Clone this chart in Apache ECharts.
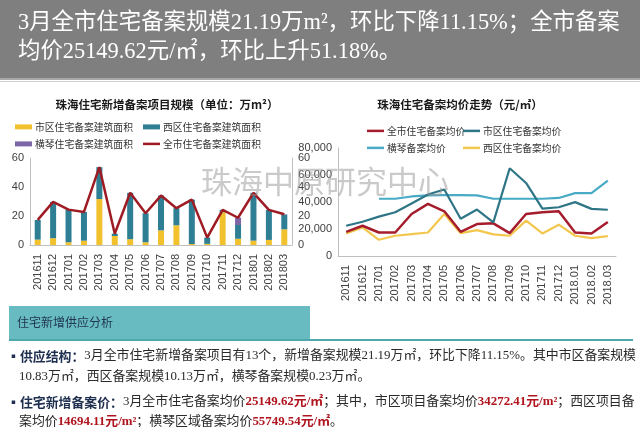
<!DOCTYPE html>
<html><head><meta charset="utf-8">
<script src="https://cdn.jsdelivr.net/npm/echarts@6/dist/echarts.min.js"></script>
<style>html,body{margin:0;padding:0;background:#fff}#c{width:640px;height:427px}</style>
</head><body><div id="c"></div>
<script>
// ---- data ----
const monthsArea = ['201611','201612','201701','201702','201703','201704','201705','201706','201707','201708','201709','201710','201711','201712','201801','201802','201803'];
const monthsPrice = ['201611','201612','201701','201702','201703','201704','201705','201706','201707','201708','201709','201710','201711','201712','2018.01','2018.02','2018.03'];
// 万m²
const areaShiqu   = [3.7, 4.7, 1.9, 3.0, 31.7, 6.2, 4.0, 1.9, 10.1, 13.6, 0.7, 0.8, 22.6, 4.3, 3.0, 3.5, 10.83];
const areaXiqu    = [13.6, 25.0, 22.5, 19.8, 22.0, 1.6, 32.0, 20.0, 24.0, 11.8, 30.6, 4.3, 1.6, 9.5, 33.0, 20.7, 10.13];
const areaHengqin = [0, 0, 0, 0, 0, 0, 0, 0, 0, 0, 0, 0, 0, 5.0, 0, 0, 0.23];
const areaAll     = [17.3, 29.7, 24.4, 22.8, 53.7, 7.8, 36.0, 21.9, 34.1, 25.4, 31.3, 5.1, 24.2, 18.8, 36.0, 24.2, 21.19];
// 元/㎡
const priceAll     = [17900, 22400, 17400, 17400, 31100, 38600, 33100, 17900, 23700, 24200, 16900, 31100, 32400, 33100, 17400, 16700, 25149.62];
const priceShiqu   = [22400, 25400, 29200, 32400, 38900, 45600, 49300, 27600, 34400, 24900, 65000, 54100, 35100, 36100, 39900, 34900, 34272.41];
const priceHengqin = [null, null, 42400, 42400, 44100, 44900, 45100, 45100, 44900, 42400, 42400, 42400, 42400, 43000, 46600, 46600, 55749.54];
const priceXiqu    = [16700, 21200, 12000, 15000, 16200, 17400, 31100, 16900, 19200, 16000, 15000, 26200, 16700, 23200, 15000, 13200, 14694.11];
// axis ticks
const areaTicks = [0, 20, 40, 60];
const priceTicks = [0, 20000, 40000, 60000, 80000];

const nmAreaShiqu = '市区住宅备案建筑面积', nmAreaXiqu = '西区住宅备案建筑面积', nmAreaHq = '横琴住宅备案建筑面积', nmAreaAll = '全市住宅备案建筑面积';
const nmPAll = '全市住宅备案均价', nmPShiqu = '市区住宅备案均价', nmPHq = '横琴备案均价', nmPXiqu = '西区住宅备案均价';

const cYellow = '#f2c12e', cTeal = '#2f7f94', cPurple = '#7d66a6', cRed = '#9e1b24';
const cpRed = '#a51d2d', cpTeal = '#2e7686', cpCyan = '#48aac4', cpYellow = '#f3c64e';

const SANS = '"Liberation Sans", "Noto Sans CJK SC", sans-serif';
const CJK = '"Noto Sans CJK SC", sans-serif';
const SERIF = '"Liberation Serif", "Noto Sans CJK SC", serif';
const axisGray = '#c0c0c0';
const lblColor = '#404040';

const chart = echarts.init(document.getElementById('c'), null, {renderer: 'canvas'});

function legendAt(name, left, top, iconH) {
  return {show: true, data: [name], left: left, top: top, icon: 'rect', itemWidth: 17, itemHeight: iconH,
    itemGap: 0, padding: 0, textStyle: {fontSize: 9.8, fontFamily: CJK, color: '#333', padding: [0, 0, 0, -2]}, selectedMode: false};
}

function T(x, y, text, font, fill, align, z) {
  return {type: 'text', x: x, y: y, z: z || 50, silent: true,
    style: {text: text, font: font, fill: fill, textAlign: align || 'left', textVerticalAlign: 'middle'}};
}

const pFont = 12.9;
const richP = {
  b: {fontFamily: CJK, fontWeight: 'bold', fontSize: pFont, fill: '#1f2f4f'},
  n: {fontFamily: SERIF, fontSize: pFont, fill: '#2a2a2a'},
  r: {fontFamily: SERIF, fontWeight: 'bold', fontSize: pFont, fill: '#b0141e'}
};
function P(x, y, text) {
  return {type: 'text', x: x, y: y, z: 50, silent: true,
    style: {text: text, rich: richP, textVerticalAlign: 'middle', textAlign: 'left', fontSize: pFont, fontFamily: SERIF, fill: '#2a2a2a'}};
}

const option = {
  animation: false,
  backgroundColor: '#ffffff',
  grid: [
    {left: 30, right: 348, top: 158, bottom: 182, containLabel: false},
    {left: 338, right: 24, top: 148, bottom: 171, containLabel: false}
  ],
  legend: [
    legendAt(nmAreaShiqu, 15, 122, 5),
    legendAt(nmAreaXiqu, 143, 122, 5),
    legendAt(nmAreaHq, 15, 139, 5),
    legendAt(nmAreaAll, 143, 139, 2.5),
    legendAt(nmPAll, 367, 126, 2.5),
    legendAt(nmPShiqu, 463, 126, 2.5),
    legendAt(nmPHq, 367, 143, 2.5),
    legendAt(nmPXiqu, 463, 143, 2.5)
  ],
  xAxis: [
    {type: 'category', gridIndex: 0, data: monthsArea, boundaryGap: true,
      axisLine: {lineStyle: {color: axisGray}}, axisTick: {show: false},
      axisLabel: {rotate: 90, interval: 0, fontSize: 11, fontFamily: SANS, color: lblColor, margin: 9}},
    {type: 'category', gridIndex: 1, data: monthsPrice, boundaryGap: true,
      axisLine: {lineStyle: {color: axisGray}}, axisTick: {show: false},
      axisLabel: {rotate: 90, interval: 0, fontSize: 11, fontFamily: SANS, color: lblColor, margin: 9}}
  ],
  yAxis: [
    {type: 'value', gridIndex: 0, min: areaTicks[0], max: areaTicks[areaTicks.length - 1], interval: areaTicks[1] - areaTicks[0],
      axisLine: {show: true, lineStyle: {color: axisGray}}, axisTick: {show: false}, splitLine: {show: false},
      axisLabel: {fontSize: 11, fontFamily: SANS, color: lblColor, margin: 6}},
    {type: 'value', gridIndex: 0, position: 'right', min: areaTicks[0], max: areaTicks[areaTicks.length - 1], interval: areaTicks[1] - areaTicks[0],
      axisLine: {show: true, lineStyle: {color: axisGray}}, axisTick: {show: false}, splitLine: {show: false},
      axisLabel: {fontSize: 11, fontFamily: SANS, color: lblColor, margin: 6}},
    {type: 'value', gridIndex: 1, min: priceTicks[0], max: priceTicks[priceTicks.length - 1], interval: priceTicks[1] - priceTicks[0],
      axisLine: {show: true, lineStyle: {color: axisGray}}, axisTick: {show: false}, splitLine: {show: false},
      axisLabel: {fontSize: 11, fontFamily: SANS, color: lblColor, margin: 6,
        formatter: v => v.toLocaleString('en-US')}}
  ],
  series: [
    {name: nmAreaShiqu, type: 'bar', stack: 'area', xAxisIndex: 0, yAxisIndex: 0, data: areaShiqu, barWidth: 6, itemStyle: {color: cYellow}},
    {name: nmAreaXiqu, type: 'bar', stack: 'area', xAxisIndex: 0, yAxisIndex: 0, data: areaXiqu, barWidth: 6, itemStyle: {color: cTeal}},
    {name: nmAreaHq, type: 'bar', stack: 'area', xAxisIndex: 0, yAxisIndex: 0, data: areaHengqin, barWidth: 6, itemStyle: {color: cPurple}},
    {name: nmAreaAll, type: 'line', xAxisIndex: 0, yAxisIndex: 1, data: areaAll, symbol: 'none', z: 5,
      lineStyle: {color: cRed, width: 2.5}, itemStyle: {color: cRed}},
    {name: nmPXiqu, type: 'line', xAxisIndex: 1, yAxisIndex: 2, data: priceXiqu, symbol: 'none', z: 2,
      lineStyle: {color: cpYellow, width: 2.2}, itemStyle: {color: cpYellow}},
    {name: nmPAll, type: 'line', xAxisIndex: 1, yAxisIndex: 2, data: priceAll, symbol: 'none', z: 3,
      lineStyle: {color: cpRed, width: 2.5}, itemStyle: {color: cpRed}},
    {name: nmPHq, type: 'line', xAxisIndex: 1, yAxisIndex: 2, data: priceHengqin, symbol: 'none', z: 4,
      lineStyle: {color: cpCyan, width: 2.2}, itemStyle: {color: cpCyan}},
    {name: nmPShiqu, type: 'line', xAxisIndex: 1, yAxisIndex: 2, data: priceShiqu, symbol: 'none', z: 5,
      lineStyle: {color: cpTeal, width: 2.2}, itemStyle: {color: cpTeal}}
  ],
  graphic: {elements: [
    {type: 'rect', shape: {x: 0, y: 0, width: 640, height: 78}, style: {fill: '#7f7f7f'}, z: 1, silent: true},
    {type: 'rect', shape: {x: 0, y: 78, width: 640, height: 2}, style: {fill: '#a8a8a8'}, z: 1, silent: true},
    {type: 'rect', shape: {x: 0, y: 81, width: 640, height: 1}, style: {fill: '#cfcfcf'}, z: 1, silent: true},
    T(18, 23, '3月全市住宅备案规模21.19万m²，环比下降11.15%；全市备案', '22.4px ' + SERIF, '#ffffff'),
    T(18, 52, '均价25149.62元/㎡，环比上升51.18%。', '22.4px ' + SERIF, '#ffffff'),
    T(167, 105, '珠海住宅新增备案项目规模（单位：万m²）', 'bold 11.5px ' + CJK, '#1a1a1a', 'center'),
    T(460, 105, '珠海住宅备案均价走势（元/㎡）', 'bold 11.5px ' + CJK, '#1a1a1a', 'center'),
    T(325, 185, '珠海中原研究中心', '31px ' + SERIF, 'rgba(150,150,150,0.5)', 'center', 200),
    {type: 'rect', shape: {x: 9, y: 306, width: 301, height: 33}, style: {fill: '#68bbc0'}, z: 1, silent: true},
    {type: 'rect', shape: {x: 9, y: 339, width: 624, height: 2}, style: {fill: '#4fa8ae'}, z: 1, silent: true},
    T(17, 322, '住宅新增供应分析', '12px ' + CJK, '#1f3550'),
    P(7, 356, '{b|▪供应结构：}{n|3月全市住宅新增备案项目有13个，新增备案规模21.19万㎡，环比下降11.15%。其中市区备案规模}'),
    P(19, 377, '{n|10.83万㎡，西区备案规模10.13万㎡，横琴备案规模0.23万㎡。}'),
    P(7, 402, '{b|▪住宅新增备案价：}{n|3月全市住宅备案均价}{r|25149.62元/㎡}{n|；其中，市区项目备案均价}{r|34272.41元/m²}{n|；西区项目备}'),
    P(19, 422, '{n|案均价}{r|14694.11元/m²}{n|；横琴区域备案均价}{r|55749.54元/㎡}{n|。}')
  ]}
};
chart.setOption(option);
</script></body></html>
